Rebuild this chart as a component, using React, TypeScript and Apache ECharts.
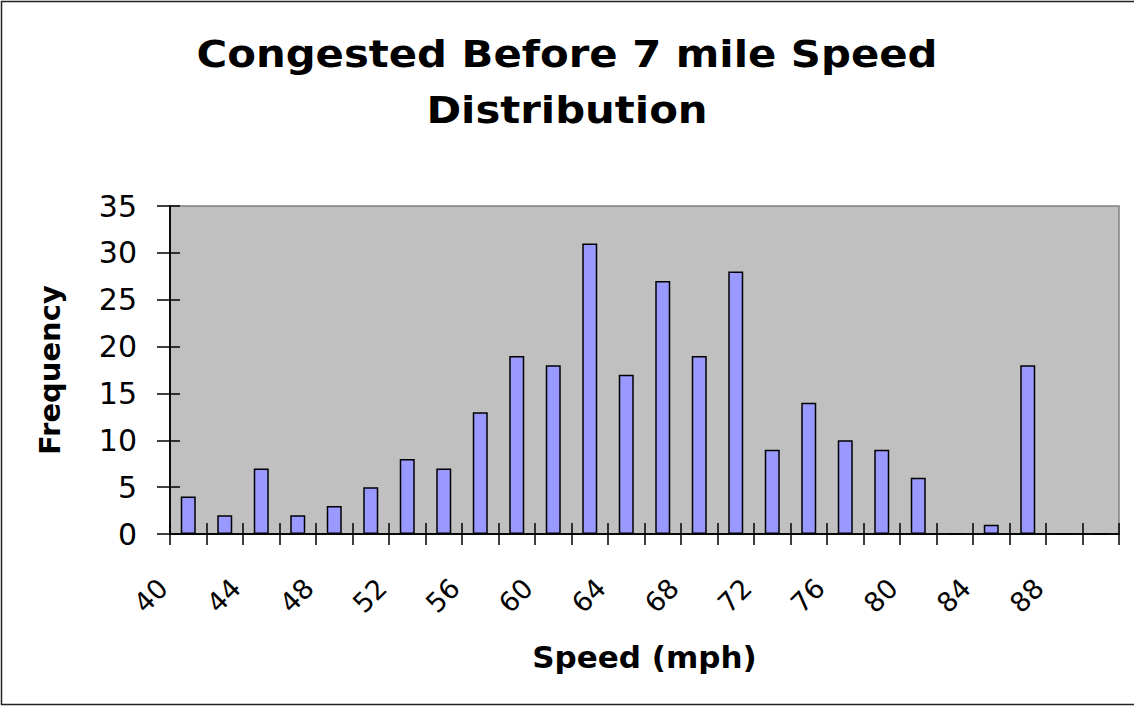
import React, { useEffect, useRef } from "react";
import * as echarts from "echarts";

const titleLines = ["Congested Before 7 mile Speed", "Distribution"];
const xAxisTitle = "Speed (mph)";
const yAxisTitle = "Frequency";
const categories = [
  "40", "42", "44", "46", "48", "50", "52", "54", "56", "58", "60", "62", "64",
  "66", "68", "70", "72", "74", "76", "78", "80", "82", "84", "86", "88", "90",
];
const frequency = [
  4, 2, 7, 2, 3, 5, 8, 7, 13, 19, 18, 31, 17, 27, 19, 28, 9, 14, 10, 9, 6, 0, 1, 18, 0, 0,
];
const yMin = 0;
const yMax = 35;
const yStep = 5;

const FONT = "'DejaVu Sans', sans-serif";

export default function App() {
  const ref = useRef<HTMLDivElement>(null);
  useEffect(() => {
    if (!ref.current) return;
    const chart = echarts.init(ref.current, undefined, { renderer: "svg" });
    const lineStyle = { color: "#000", width: 1.5 };
    const yBase = {
      type: "value" as const,
      min: yMin,
      max: yMax,
      interval: yStep,
      position: "left" as const,
      splitLine: { show: false },
      axisLine: { show: true, onZero: false, lineStyle },
    };
    const xBase = {
      type: "category" as const,
      data: categories,
      position: "bottom" as const,
      boundaryGap: true,
      splitLine: { show: false },
      axisLine: { show: true, onZero: false, lineStyle },
    };
    chart.setOption({
      animation: false,
      backgroundColor: "#ffffff",
      graphic: [
        {
          type: "rect",
          shape: { x: 1.5, y: 1.5, width: 1140, height: 703 },
          style: { fill: "none", stroke: "#222", lineWidth: 1.5 },
          silent: true,
          z: 100,
        },
        {
          type: "text",
          x: 567,
          y: 26,
          scaleX: 1.1,
          style: {
            text: titleLines.join("\n"),
            font: `bold 38px ${FONT}`,
            fill: "#000",
            align: "center",
            verticalAlign: "top",
            lineHeight: 56,
          },
          silent: true,
        },
      ],
      grid: {
        left: 170,
        right: 15,
        top: 206,
        bottom: 172,
        show: true,
        backgroundColor: "#C0C0C0",
        borderColor: "#808080",
        borderWidth: 1.5,
      },
      xAxis: [
        {
          ...xBase,
          name: xAxisTitle,
          nameLocation: "middle",
          nameGap: 107,
          nameTextStyle: { fontFamily: FONT, fontSize: 31, fontWeight: "bold", color: "#000" },
          axisTick: { show: true, interval: 0, length: 11, lineStyle },
          axisLabel: {
            interval: 1,
            rotate: 45,
            margin: 24,
            padding: [0, 36, 0, 0],
            fontFamily: FONT,
            fontSize: 27,
            color: "#000",
          },
        },
        {
          ...xBase,
          axisTick: { show: true, inside: true, interval: 0, length: 11, lineStyle },
          axisLabel: { show: false },
        },
      ],
      yAxis: [
        {
          ...yBase,
          name: yAxisTitle,
          nameLocation: "middle",
          nameGap: 106,
          nameTextStyle: { fontFamily: FONT, fontSize: 29, fontWeight: "bold", color: "#000" },
          axisTick: { show: true, length: 13, lineStyle },
          axisLabel: { margin: 33, fontFamily: FONT, fontSize: 30, color: "#000" },
        },
        {
          ...yBase,
          axisTick: { show: true, inside: true, length: 10, lineStyle },
          axisLabel: { show: false },
        },
      ],
      series: [
        {
          type: "bar",
          xAxisIndex: 0,
          yAxisIndex: 0,
          data: frequency,
          barWidth: 15,
          itemStyle: { color: "#9999FF", borderColor: "#000", borderWidth: 1.5 },
          z: 3,
        },
      ],
    });
    return () => chart.dispose();
  }, []);
  return (
    <div
      ref={ref}
      style={{ position: "fixed", left: 0, top: 0, width: 1134, height: 706 }}
    />
  );
}
